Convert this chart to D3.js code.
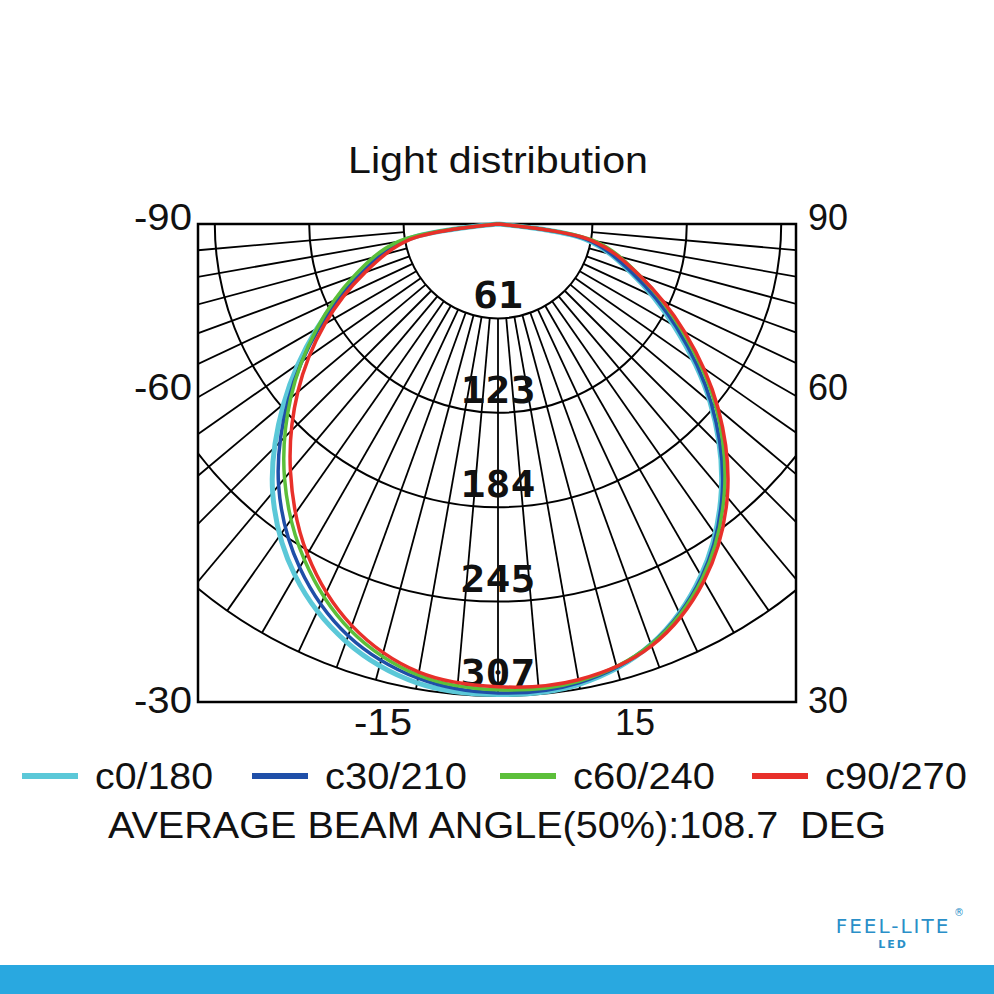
<!DOCTYPE html><html><head><meta charset="utf-8"><script src="https://cdn.jsdelivr.net/npm/d3@7"></script>
<style>body{margin:0;background:#fff}</style></head><body><script>
const angles=[-90,-80,-70,-60,-50,-40,-30,-20,-10,0,10,20,30,40,50,60,70,80,90];
const c0_180 =[0,62,95,136,182,228,264,289,303,306,304,291,264,226,180,132,92,58,0];
const c30_210=[0,62,95,134,178,222,258,285,300,305,303,291,265,227,181,134,93,59,0];
const c60_240=[0,66,100,136,176,216,252,281,298,303,302,291,266,229,185,138,98,64,0];
const c90_270=[0,58,92,130,170,210,248,278,296,301,301,292,268,232,187,140,98,62,0];
const seriesNames=["c0/180","c30/210","c60/240","c90/270"];
const seriesColors=["#5bc8d8","#1f4fa8","#5cbf3a","#e8302a"];
const ringLabels=[61,123,184,245,307];
const leftLabels=["-90","-60","-30"], rightLabels=["90","60","30"], bottomLabels=["-15","15"];
const series=[c0_180,c30_210,c60_240,c90_270];

const W=994,H=994,cx=498,cy=224,fx0=198,fx1=796,fy1=702;
const svg=d3.select("body").append("svg").attr("width",W).attr("height",H);
const r=d3.scaleLinear().domain([0,307]).range([0,472]);
svg.append("defs").append("clipPath").attr("id","cl").append("rect").attr("x",fx0).attr("y",cy).attr("width",fx1-fx0).attr("height",fy1-cy);
const g=svg.append("g").attr("clip-path","url(#cl)");
const toXY=(th,v)=>[cx+r(v)*Math.sin(th*Math.PI/180), cy+r(v)*Math.cos(th*Math.PI/180)];
ringLabels.forEach((v,i)=>{const rv=r(61.4*(i+1));
 g.append("circle").attr("cx",cx).attr("cy",cy).attr("r",rv).attr("fill","none").attr("stroke","#000").attr("stroke-width",2);});
d3.range(-85,90,5).forEach(th=>{const a=toXY(th,61.4),b=toXY(th,307);
 g.append("line").attr("x1",a[0]).attr("y1",a[1]).attr("x2",b[0]).attr("y2",b[1]).attr("stroke","#000").attr("stroke-width",1.8);});
svg.append("rect").attr("x",fx0).attr("y",cy).attr("width",fx1-fx0).attr("height",fy1-cy).attr("fill","none").attr("stroke","#000").attr("stroke-width",2.5);
ringLabels.forEach((v,i)=>{const t=String(v);svg.append("text").attr("x",cx).attr("y",cy+r(61.4*(i+1))-10).attr("text-anchor","middle")
 .attr("font-family","DejaVu Sans Mono").attr("font-weight","bold").attr("font-size",38).attr("fill","#111")
 .attr("textLength",t.length*25).attr("lengthAdjust","spacingAndGlyphs").text(t);});
const line=d3.lineRadial().angle(d=>Math.PI-d[0]*Math.PI/180).radius(d=>r(d[1])).curve(d3.curveCatmullRom);
series.forEach((s,i)=>{svg.append("path").attr("transform",`translate(${cx},${cy})`).attr("d",line(angles.map((a,j)=>[a,s[j]])))
 .attr("fill","none").attr("stroke",seriesColors[i]).attr("stroke-width",i==0?5:3.5);});
const T=(x,y,t,anchor,size,len)=>{const e=svg.append("text").attr("x",x).attr("y",y).attr("text-anchor",anchor||"middle").attr("font-family","Liberation Sans, Arial").attr("font-size",size||36).attr("fill","#111").text(t);
 if(len)e.attr("textLength",len).attr("lengthAdjust","spacingAndGlyphs");return e;};
T(498,173,"Light distribution","middle",36,300);
const ly=[230,400,713];
leftLabels.forEach((t,i)=>T(192,ly[i],t,"end",36,t.length==3?58:40));
rightLabels.forEach((t,i)=>T(808,ly[i],t,"start",36,40));
T(383,735,bottomLabels[0],"middle",36,58);T(635,735,bottomLabels[1],"middle",36,40);
const lx=[22,252,500,752], tl=[118,142,142,142];
seriesNames.forEach((n,i)=>{svg.append("line").attr("x1",lx[i]).attr("x2",lx[i]+56).attr("y1",776).attr("y2",776).attr("stroke",seriesColors[i]).attr("stroke-width",6);
 T(lx[i]+73,789,n,"start",36,tl[i]);});
T(108,838,"AVERAGE BEAM ANGLE(50%):108.7  DEG","start",36,778).attr("xml:space","preserve").style("white-space","pre");
svg.append("text").attr("x",893).attr("y",933).attr("text-anchor","middle").attr("font-family","DejaVu Sans").attr("font-size",20).attr("fill","#2a8fc8").attr("letter-spacing",2).text("FEEL-LITE");
svg.append("text").attr("x",954).attr("y",916).attr("font-family","DejaVu Sans").attr("font-size",10).attr("fill","#2a8fc8").text("®");
svg.append("text").attr("x",893).attr("y",948).attr("text-anchor","middle").attr("font-family","DejaVu Sans").attr("font-weight","bold").attr("font-size",11).attr("fill","#2a8fc8").attr("letter-spacing",2).text("LED");
svg.append("rect").attr("x",0).attr("y",965).attr("width",W).attr("height",29).attr("fill","#29a8e0");
</script></body></html>
